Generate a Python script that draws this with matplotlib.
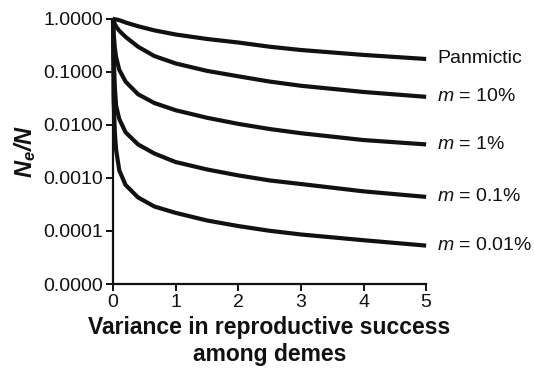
import matplotlib
matplotlib.use("Agg")
import matplotlib.pyplot as plt

plt.rcParams['font.family'] = ['Liberation Sans', 'DejaVu Sans']
plt.rcParams['mathtext.fontset'] = 'custom'
plt.rcParams['mathtext.rm'] = 'Liberation Sans'
plt.rcParams['mathtext.it'] = 'Liberation Sans:italic'
plt.rcParams['mathtext.bf'] = 'Liberation Sans:bold'
plt.rcParams['mathtext.bfit'] = 'Liberation Sans:italic:bold'

# Data
variance = [0, 0.01, 0.03, 0.05, 0.1, 0.2, 0.4, 0.66, 1, 1.5, 2, 2.5, 3, 4, 5]
panmictic = [1.0, 1.0, 0.99, 0.98, 0.95, 0.86, 0.73, 0.61, 0.51, 0.42, 0.36, 0.30, 0.26, 0.21, 0.176]
m_10 = [1.0, 0.92, 0.80, 0.72, 0.60, 0.46, 0.30, 0.20, 0.145, 0.105, 0.083, 0.066, 0.055, 0.042, 0.034]
m_1 = [1.0, 0.55, 0.28, 0.19, 0.11, 0.066, 0.038, 0.026, 0.019, 0.0137, 0.0105, 0.0084, 0.0070, 0.0052, 0.0043]
m_01 = [1.0, 0.20, 0.05, 0.023, 0.013, 0.0073, 0.0043, 0.0029, 0.0020, 0.00145, 0.00112, 0.00090, 0.00077, 0.00056, 0.00044]
m_001 = [1.0, 0.03, 0.007, 0.0034, 0.0014, 0.00074, 0.00043, 0.00029, 0.00022, 0.000158, 0.000124, 0.000101, 0.000086, 0.000067, 0.000053]

series = [panmictic, m_10, m_1, m_01, m_001]
labels = ["Panmictic", "$m$ = 10%", "$m$ = 1%", "$m$ = 0.1%", "$m$ = 0.01%"]

x_ticks = [0, 1, 2, 3, 4, 5]
y_ticks = [1e-5, 1e-4, 1e-3, 1e-2, 1e-1, 1]
y_ticklabels = ["0.0000", "0.0001", "0.0010", "0.0100", "0.1000", "1.0000"]

fig = plt.figure(figsize=(5.34, 3.71), dpi=100)
ax = fig.add_axes([0.2116, 0.2345, 0.798 - 0.2116, 0.9488 - 0.2345])

for ys, lab in zip(series, labels):
    ax.plot(variance, ys, color='#111111', lw=3.0, solid_capstyle='butt', solid_joinstyle='round', clip_on=False)
    ax.annotate(lab, xy=(variance[-1], ys[-1]), xytext=(8, 0), textcoords='offset points',
                ha='left', va='center', fontsize=14, color='#111111', annotation_clip=False)

ax.set_yscale('log')
ax.set_xlim(0, 5)
ax.set_ylim(1e-5, 1)
ax.set_xticks(x_ticks)
ax.set_xticklabels([str(t) for t in x_ticks])
ax.set_yticks(y_ticks)
ax.set_yticklabels(y_ticklabels)
ax.yaxis.set_minor_locator(matplotlib.ticker.NullLocator())

for s in ['top', 'right']:
    ax.spines[s].set_visible(False)
for s in ['left', 'bottom']:
    ax.spines[s].set_linewidth(1.6)
    ax.spines[s].set_color('#111111')

ax.tick_params(axis='both', direction='out', length=5, width=1.4, labelsize=14,
               colors='#111111', pad=2)

ax.set_xlabel("Variance in reproductive success\namong demes", fontsize=16.5,
              fontweight='bold', color='#111111', labelpad=4)
ax.set_ylabel(r"$\mathbfit{N}_{\mathbfit{e}}\mathbfit{/N}$", fontsize=17, color='#111111', labelpad=4)

fig.savefig("out.png", dpi=100)
